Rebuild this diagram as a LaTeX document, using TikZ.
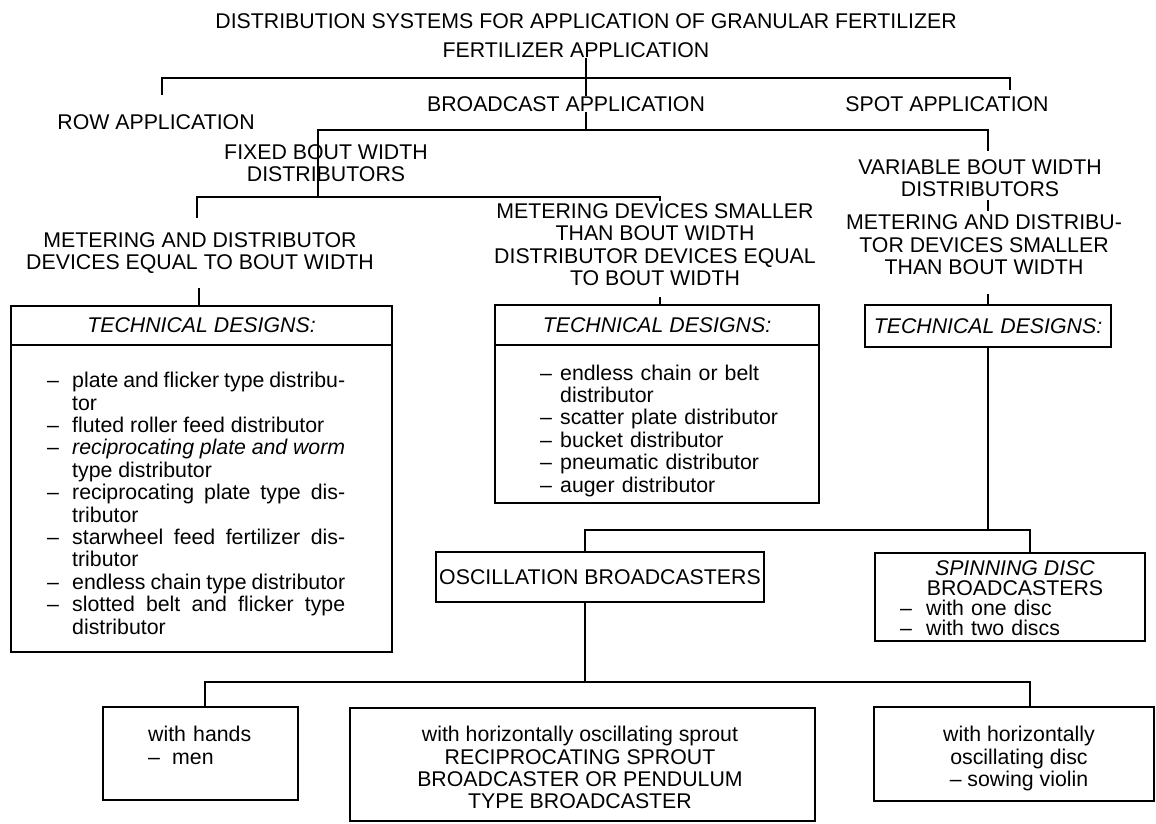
\documentclass[tikz,border=0pt]{standalone}
\usepackage{fontspec}
\setmainfont{Liberation Sans}
\hyphenpenalty=10000
\exhyphenpenalty=10000
\hbadness=10000

\newcommand{\cf}{\fontsize{21.3}{22.4}\selectfont}
\newcommand{\cft}{\fontsize{21.3}{20}\selectfont}
\newcommand{\dashitem}[2][25pt]{\par\noindent\hangindent=#1\hangafter=1\makebox[#1][l]{\textendash}#2}

\tikzset{
  lbl/.style={font=\cf, align=center, inner sep=0pt},
  frame/.style={draw, line width=2pt, inner sep=0pt},
  hdbox/.style={frame, font=\cf\itshape},
  items/.style={font=\cf, text width=#1, inner sep=0pt, anchor=north west},
  link/.style={line width=2pt},
}

\begin{document}
\begin{tikzpicture}[x=1pt, y=-1pt]
\useasboundingbox (0,0) rectangle (1156,823);

% first levels
\node[lbl] (title) at (586,21) {DISTRIBUTION SYSTEMS FOR APPLICATION OF GRANULAR FERTILIZER};
\node[lbl] (fert) at (576,50) {FERTILIZER APPLICATION};
\node[lbl] (row) at (156,122) {ROW APPLICATION};
\node[lbl] (bcast) at (566,104) {BROADCAST APPLICATION};
\node[lbl] (spot) at (947,104) {SPOT APPLICATION};

\coordinate (b1) at (586,78);
\coordinate (rowtip) at (162,95);
\coordinate (spottip) at (1010,90);
\draw[link] (fert.south -| b1) -- (b1) -- (bcast.north -| b1);
\draw[link] (rowtip) -- (rowtip |- b1) -- (spottip |- b1) -- (spottip);

% bout width
\node[lbl] (fixed) at (326,163) {FIXED BOUT WIDTH\\DISTRIBUTORS};
\node[lbl] (vari) at (980,178) {VARIABLE BOUT WIDTH\\DISTRIBUTORS};

\coordinate (b2) at (586,130);
\coordinate (b2L) at (318,130);
\coordinate (b2R) at (988,130);
\coordinate (varitip) at (988,151);
\coordinate (b3) at (318,197);
\draw[link] (bcast.south -| b2) -- (b2);
\draw[link] (b3) -- (b2L) -- (b2R) -- (varitip);

% metering devices
\node[lbl] (meterA) at (200,253) {METERING AND DISTRIBUTOR\\DEVICES EQUAL TO BOUT WIDTH};
\node[lbl] (meterB) at (655,244.5) {METERING DEVICES SMALLER\\THAN BOUT WIDTH\\DISTRIBUTOR DEVICES EQUAL\\TO BOUT WIDTH};
\node[lbl] (meterC) at (984,245) {METERING AND DISTRIBU-\\TOR DEVICES SMALLER\\THAN BOUT WIDTH};

\coordinate (atip) at (197,218);
\coordinate (btip) at (660,201);
\draw[link] (atip) -- (atip |- b3) -- (btip |- b3) -- (btip);
\draw[link] (988,200) -- (988,211);

% technical designs
\node[hdbox, minimum width=381pt, minimum height=39pt] (headA) at (201.5,325.5) {TECHNICAL DESIGNS:};
\node[frame, minimum width=381pt, minimum height=307pt] (bodyA) at (201.5,498.5) {};
\node[items=298pt, align=justify] (listA) at (47,365) {%
  \dashitem{plate and flicker type distribu-\linebreak tor}%
  \dashitem{fluted roller feed distributor}%
  \dashitem{\textit{reciprocating plate and worm}\linebreak type distributor}%
  \dashitem{reciprocating plate type dis-\linebreak tributor}%
  \dashitem{starwheel feed fertilizer dis-\linebreak tributor}%
  \dashitem{endless chain type distributor}%
  \dashitem{slotted belt and flicker type\linebreak distributor}\par};

\node[hdbox, minimum width=324pt, minimum height=40pt] (headB) at (657,325) {TECHNICAL DESIGNS:};
\node[frame, minimum width=324pt, minimum height=158pt] (bodyB) at (657,424) {};
\node[items=260pt, align=left] (listB) at (540,357.5) {%
  \dashitem[20pt]{endless chain or belt\linebreak distributor}%
  \dashitem[20pt]{scatter plate distributor}%
  \dashitem[20pt]{bucket distributor}%
  \dashitem[20pt]{pneumatic distributor}%
  \dashitem[20pt]{auger distributor}\par};

\node[hdbox, minimum width=246pt, minimum height=42pt] (headC) at (988,326) {TECHNICAL DESIGNS:};

\draw[link] (199,288) -- (headA.north -| 199,0);
\draw[link] (660,297) -- (headB.north -| btip);
\draw[link] (988,294) -- (headC.north);

% broadcasters
\node[frame, font=\cf, minimum width=328pt, minimum height=50pt] (osc) at (600,577) {OSCILLATION BROADCASTERS};
\node[frame, minimum width=270pt, minimum height=88pt] (spin) at (1010,597) {};
\node[lbl, font=\cft] (spinT) at (1015,578) {\textit{SPINNING DISC}\\BROADCASTERS};
\node[items=230pt, font=\cft, align=left] (spinL) at (900,595) {%
  \dashitem[26pt]{with one disc}%
  \dashitem[26pt]{with two discs}\par};

\coordinate (b4) at (988,530);
\coordinate (b4L) at (585,530);
\coordinate (b4R) at (1030,530);
\draw[link] (headC.south) -- (b4);
\draw[link] (osc.north -| b4L) -- (b4L) -- (b4R) -- (spin.north -| b4R);

% oscillation types
\node[frame, minimum width=195pt, minimum height=93pt] (hands) at (200.5,753.5) {};
\node[items=140pt, align=left] (handsT) at (148,726) {with hands\\\makebox[24pt][l]{\textendash}men};
\node[frame, minimum width=465pt, minimum height=113pt] (sprout) at (582.5,764.5) {};
\node[lbl, anchor=north] (sproutT) at (580,726) {with horizontally oscillating sprout\\RECIPROCATING SPROUT\\BROADCASTER OR PENDULUM\\TYPE BROADCASTER};
\node[frame, minimum width=280pt, minimum height=94pt] (violin) at (1014,754) {};
\node[lbl, anchor=north] (violinT) at (1019,726) {with horizontally\\oscillating disc\\\textendash\ sowing violin};

\coordinate (b5) at (585,682);
\coordinate (b5L) at (205,682);
\coordinate (b5R) at (1030,682);
\draw[link] (osc.south -| b5) -- (b5);
\draw[link] (hands.north -| b5L) -- (b5L) -- (b5R) -- (violin.north -| b5R);
\end{tikzpicture}
\end{document}
